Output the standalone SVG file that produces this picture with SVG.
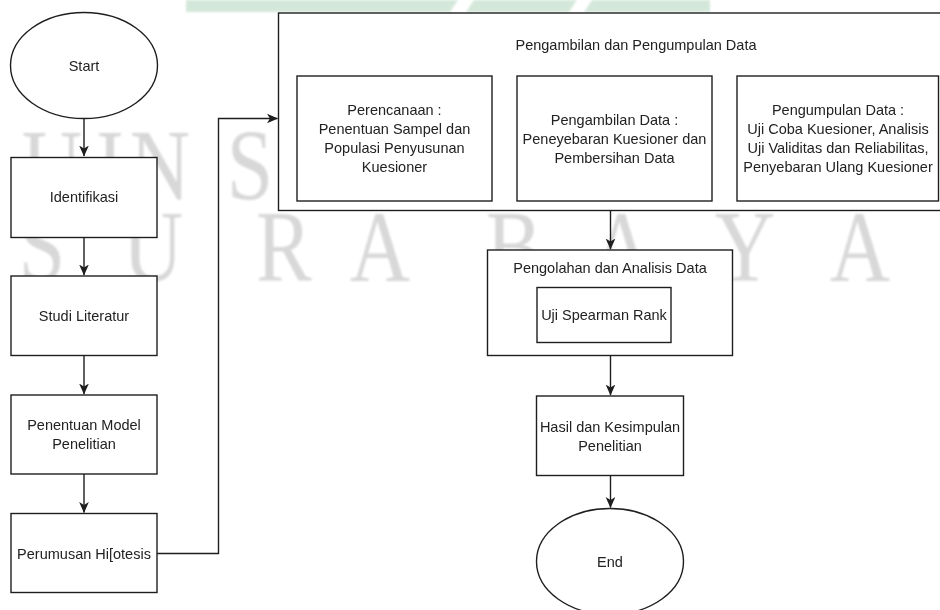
<svg xmlns="http://www.w3.org/2000/svg" width="940" height="610" viewBox="0 0 940 610">
  <defs>
    <style>
      .box { fill: #ffffff; stroke: #1e1e1e; stroke-width: 1.4; }
      .edge { fill: none; stroke: #1e1e1e; stroke-width: 1.4; }
      .edge.bold { stroke-width: 2.4; }
      .lbl { font-family: "Liberation Sans", Arial, sans-serif; font-size: 14.5px; fill: #222222; text-anchor: middle; }
      .wm { font-family: "Liberation Serif", "Times New Roman", serif; font-size: 102px; fill: #d8d8d8; text-anchor: middle; }
      .band { fill: #d4e8da; }
    </style>
    <marker id="arrow" viewBox="0 0 10 10" refX="9.5" refY="5" markerWidth="11" markerHeight="11" markerUnits="userSpaceOnUse" orient="auto">
      <path d="M0,0.6 L10,5 L0,9.4 L2.6,5 Z" fill="#1e1e1e"/>
    </marker>
    <filter id="soft" x="-5%" y="-5%" width="110%" height="110%">
      <feGaussianBlur stdDeviation="1.3"/>
    </filter>
  </defs>

  <rect x="0" y="0" width="940" height="610" fill="#ffffff"/>

  <!-- background watermark -->
  <g id="watermark" filter="url(#soft)">
    <polygon class="band" points="186,0 458,0 450,12 186,12"/>
    <polygon class="band" points="474,0 577,0 569,12 466,12"/>
    <polygon class="band" points="592,0 710,0 710,12 584,12"/>
    <text class="wm" transform="translate(52,200) scale(0.82,1)">U</text>
    <text class="wm" transform="translate(110,200) scale(0.82,1)">I</text>
    <text class="wm" transform="translate(160,200) scale(0.82,1)">N</text>
    <text class="wm" transform="translate(250,200) scale(0.82,1)">S</text>
    <text class="wm" transform="translate(42,281) scale(0.82,1)">S</text>
    <text class="wm" transform="translate(153,281) scale(0.82,1)">U</text>
    <text class="wm" transform="translate(284,281) scale(0.82,1)">R</text>
    <text class="wm" transform="translate(380,281) scale(0.82,1)">A</text>
    <text class="wm" transform="translate(514,281) scale(0.82,1)">B</text>
    <text class="wm" transform="translate(622,281) scale(0.82,1)">A</text>
    <text class="wm" transform="translate(745,281) scale(0.82,1)">Y</text>
    <text class="wm" transform="translate(860,281) scale(0.82,1)">A</text>
  </g>

  <!-- connectors -->
  <g id="connectors">
    <path class="edge" d="M84,118.5 V156" marker-end="url(#arrow)"/>
    <path class="edge" d="M84,237.5 V275" marker-end="url(#arrow)"/>
    <path class="edge" d="M84,355.5 V394" marker-end="url(#arrow)"/>
    <path class="edge" d="M84,474 V512.5" marker-end="url(#arrow)"/>
    <path class="edge" d="M157,553.5 H218.5 V118.5 H277.5" marker-end="url(#arrow)"/>
    <path class="edge bold" d="M492,139 H515.5" marker-end="url(#arrow)"/>
    <path class="edge bold" d="M712,139 H735.5" marker-end="url(#arrow)"/>
    <path class="edge" d="M610.5,210.5 V249" marker-end="url(#arrow)"/>
    <path class="edge" d="M610.5,355.5 V395" marker-end="url(#arrow)"/>
    <path class="edge" d="M610.5,475.5 V507.5" marker-end="url(#arrow)"/>
  </g>

  <!-- left column -->
  <g id="start">
    <ellipse class="box" cx="84" cy="65.5" rx="73.5" ry="53"/>
    <text class="lbl" x="84" y="70.5">Start</text>
  </g>
  <g id="identifikasi">
    <rect class="box" x="11" y="157.5" width="146" height="80"/>
    <text class="lbl" x="84" y="202">Identifikasi</text>
  </g>
  <g id="studi-literatur">
    <rect class="box" x="11" y="276" width="146" height="79.5"/>
    <text class="lbl" x="84" y="321">Studi Literatur</text>
  </g>
  <g id="penentuan-model">
    <rect class="box" x="11" y="395" width="146" height="79"/>
    <text class="lbl" x="84" y="430">Penentuan Model</text>
    <text class="lbl" x="84" y="449">Penelitian</text>
  </g>
  <g id="perumusan-hipotesis">
    <rect class="box" x="11" y="513.5" width="146" height="79"/>
    <text class="lbl" x="84" y="558.5">Perumusan Hi[otesis</text>
  </g>

  <!-- data collection stage -->
  <g id="pengambilan-pengumpulan">
    <rect class="box" x="278.5" y="13" width="720" height="197.5"/>
    <text class="lbl" x="636" y="50">Pengambilan dan Pengumpulan Data</text>
  </g>
  <g id="perencanaan">
    <rect class="box" x="297" y="76" width="195" height="125"/>
    <text class="lbl" x="394.5" y="115">Perencanaan :</text>
    <text class="lbl" x="394.5" y="134">Penentuan Sampel dan</text>
    <text class="lbl" x="394.5" y="153">Populasi Penyusunan</text>
    <text class="lbl" x="394.5" y="172">Kuesioner</text>
  </g>
  <g id="pengambilan-data">
    <rect class="box" x="517" y="76" width="195" height="125"/>
    <text class="lbl" x="614.5" y="124.5">Pengambilan Data :</text>
    <text class="lbl" x="614.5" y="143.5">Peneyebaran Kuesioner dan</text>
    <text class="lbl" x="614.5" y="162.5">Pembersihan Data</text>
  </g>
  <g id="pengumpulan-data">
    <rect class="box" x="737" y="76" width="201.5" height="125"/>
    <text class="lbl" x="838" y="115">Pengumpulan Data :</text>
    <text class="lbl" x="838" y="134">Uji Coba Kuesioner, Analisis</text>
    <text class="lbl" x="838" y="153">Uji Validitas dan Reliabilitas,</text>
    <text class="lbl" x="838" y="172">Penyebaran Ulang Kuesioner</text>
  </g>

  <!-- processing and results -->
  <g id="pengolahan-analisis">
    <rect class="box" x="487.5" y="250" width="245" height="105.5"/>
    <text class="lbl" x="610" y="273">Pengolahan dan Analisis Data</text>
  </g>
  <g id="uji-spearman">
    <rect class="box" x="537" y="287.5" width="134" height="55"/>
    <text class="lbl" x="604" y="319.5">Uji Spearman Rank</text>
  </g>
  <g id="hasil-kesimpulan">
    <rect class="box" x="536.5" y="396" width="147" height="79.5"/>
    <text class="lbl" x="610" y="431.5">Hasil dan Kesimpulan</text>
    <text class="lbl" x="610" y="450.5">Penelitian</text>
  </g>
  <g id="end">
    <ellipse class="box" cx="610" cy="561.5" rx="73.5" ry="53"/>
    <text class="lbl" x="610" y="566.5">End</text>
  </g>
</svg>
